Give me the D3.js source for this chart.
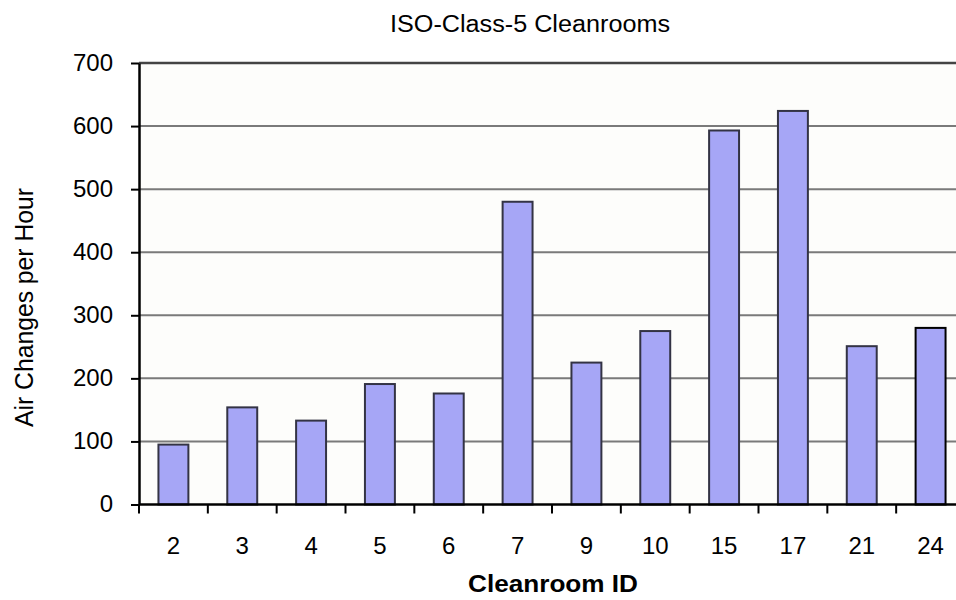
<!DOCTYPE html>
<html><head><meta charset="utf-8">
<script src="https://cdn.jsdelivr.net/npm/d3@7"></script>
<style>body{margin:0;background:#fff;overflow:hidden}svg{display:block}text{font-family:"Liberation Sans",Arial,sans-serif;fill:#000}</style>
</head><body>
<svg id="c" width="956" height="600"></svg>
<script>
const categories = ["2","3","4","5","6","7","9","10","15","17","21","24"];
const values = [95,154,133,191,176,480,225,275,593,624,251,280];
const yTicks = [0,100,200,300,400,500,600,700];
const title = "ISO-Class-5 Cleanrooms";
const xTitle = "Cleanroom ID";
const yTitle = "Air Changes per Hour";

const svg = d3.select("#c");
const m = {left:139, top:63, right:965, bottom:504.5};
const x = d3.scaleBand().domain(categories).range([m.left, m.right]).paddingInner(0.565).paddingOuter(0.2825);
const y = d3.scaleLinear().domain([0,700]).range([m.bottom, m.top]);

svg.append("rect").attr("x",m.left).attr("y",m.top).attr("width",m.right-m.left).attr("height",m.bottom-m.top).attr("fill","#fdfdfb");

svg.append("g").selectAll("line").data(yTicks.filter(d=>d>0)).join("line")
  .attr("x1",m.left).attr("x2",m.right).attr("y1",d=>y(d)).attr("y2",d=>y(d))
  .attr("stroke",d=>d===700?"#444":"#7a7a7a").attr("stroke-width",d=>d===700?2.5:2);

svg.append("g").selectAll("rect").data(values).join("rect")
  .attr("x",(d,i)=>x(categories[i])).attr("width",x.bandwidth())
  .attr("y",d=>y(d)).attr("height",d=>y(0)-y(d))
  .attr("fill","#a6a6f6").attr("stroke",(d,i)=>i===values.length-1?"#000":"#333344").attr("stroke-width",2);

const yAxis = d3.axisLeft(y).tickValues(yTicks).tickSize(8).tickSizeOuter(0).tickPadding(18);
const gy = svg.append("g").attr("transform",`translate(${m.left},0)`).call(yAxis);
gy.select(".domain").attr("stroke","#000").attr("stroke-width",2.5);
gy.selectAll(".tick line").attr("stroke","#000").attr("stroke-width",2);
gy.selectAll(".tick text").attr("font-size",24).attr("font-family","Liberation Sans, Arial, sans-serif").attr("fill","#000").attr("dy","0.31em");

const xb = d3.scaleLinear().domain([0,12]).range([m.left,m.right]);
const gx = svg.append("g").attr("transform",`translate(0,${m.bottom})`);
gx.append("line").attr("x1",m.left).attr("x2",m.right).attr("stroke","#000").attr("stroke-width",2.5);
gx.selectAll("line.t").data(d3.range(0,13)).join("line").attr("class","t")
  .attr("x1",d=>xb(d)).attr("x2",d=>xb(d)).attr("y1",0).attr("y2",9).attr("stroke","#000").attr("stroke-width",2);
gx.selectAll("text").data(categories).join("text")
  .attr("x",d=>x(d)+x.bandwidth()/2).attr("y",49).attr("text-anchor","middle").attr("font-size",24).text(d=>d);

svg.append("text").attr("x",530).attr("y",31.5).attr("text-anchor","middle").attr("font-size",23)
  .attr("textLength",280).attr("lengthAdjust","spacingAndGlyphs").text(title);
svg.append("text").attr("x",553).attr("y",591.5).attr("text-anchor","middle").attr("font-size",23).attr("font-weight","bold")
  .attr("textLength",170).attr("lengthAdjust","spacingAndGlyphs").text(xTitle);
svg.append("text").attr("transform","translate(33,307.5) rotate(-90)").attr("text-anchor","middle").attr("font-size",25)
  .attr("textLength",239).attr("lengthAdjust","spacingAndGlyphs").text(yTitle);
</script>
</body></html>
